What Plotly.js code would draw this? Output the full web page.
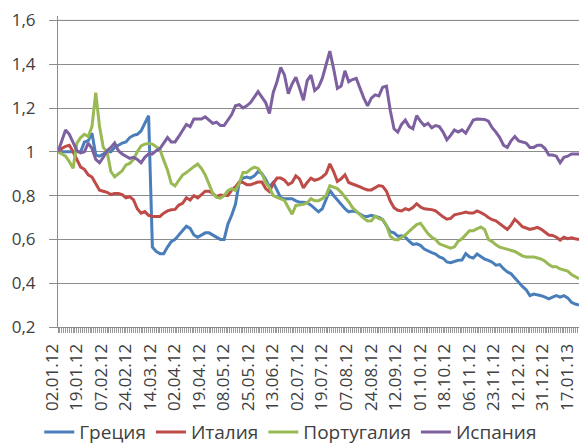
<!DOCTYPE html>
<html>
<head>
<meta charset="utf-8">
<script src="https://cdn.plot.ly/plotly-3.0.1.min.js"></script>
<style>
  html, body { margin: 0; padding: 0; background: #fff; overflow: hidden; width: 579px; height: 447px; }
  #chart { width: 579px; height: 470px; }
</style>
</head>
<body>
<div id="chart"></div>
<script>
// Tick labels (trading-day category axis, one label every 13 trading days)
const tickLabels = ["02.01.12","19.01.12","07.02.12","24.02.12","14.03.12","02.04.12","19.04.12",
  "08.05.12","25.05.12","13.06.12","02.07.12","19.07.12","07.08.12","24.08.12","12.09.12",
  "01.10.12","18.10.12","06.11.12","23.11.12","12.12.12","31.12.12","17.01.13"];
const tickDays = [0,13,26,39,52,65,78,91,104,117,130,143,156,169,182,195,208,221,234,247,260,273];
const yTicks = [0.2, 0.4, 0.6, 0.8, 1.0, 1.2, 1.4, 1.6];

// Series values, sampled every 2nd trading day (index 0, 2, 4, ...)
const greece = [1.00,1.00,1.00,1.00,1.00,1.00,1.00,1.045,1.05,1.085,
  0.985,0.98,0.99,1.00,1.00,1.02,1.03,1.04,1.045,1.065,
  1.075,1.08,1.095,1.13,1.165,0.565,0.545,0.535,0.535,0.565,
  0.59,0.60,0.62,0.64,0.66,0.65,0.62,0.61,0.62,0.63,
  0.63,0.62,0.61,0.60,0.60,0.67,0.71,0.76,0.86,0.88,
  0.885,0.88,0.89,0.91,0.90,0.875,0.84,0.86,0.825,0.79,
  0.786,0.786,0.786,0.776,0.77,0.77,0.767,0.756,0.74,0.726,
  0.74,0.78,0.825,0.80,0.78,0.76,0.74,0.726,0.73,0.726,
  0.714,0.706,0.705,0.71,0.705,0.70,0.69,0.66,0.635,0.63,
  0.615,0.617,0.61,0.592,0.577,0.58,0.573,0.556,0.547,0.54,
  0.533,0.52,0.514,0.497,0.494,0.50,0.505,0.506,0.535,0.52,
  0.515,0.533,0.522,0.51,0.504,0.496,0.482,0.485,0.466,0.452,
  0.443,0.423,0.40,0.385,0.37,0.343,0.35,0.348,0.343,0.336,
  0.328,0.336,0.343,0.336,0.343,0.333,0.313,0.305,0.30];

const italy = [1.00,1.015,1.025,1.03,1.00,0.965,0.93,0.92,0.895,0.885,
  0.855,0.825,0.82,0.815,0.805,0.81,0.81,0.805,0.79,0.795,
  0.78,0.74,0.72,0.727,0.71,0.705,0.705,0.705,0.72,0.73,
  0.735,0.737,0.757,0.765,0.79,0.78,0.80,0.79,0.805,0.82,
  0.82,0.81,0.795,0.803,0.80,0.80,0.825,0.84,0.862,0.86,
  0.85,0.85,0.856,0.862,0.862,0.832,0.818,0.855,0.88,0.88,
  0.87,0.85,0.86,0.89,0.875,0.835,0.86,0.88,0.87,0.875,
  0.885,0.90,0.945,0.91,0.865,0.877,0.895,0.86,0.853,0.848,
  0.84,0.832,0.826,0.826,0.838,0.846,0.842,0.82,0.775,0.745,
  0.733,0.73,0.74,0.735,0.745,0.763,0.748,0.74,0.738,0.736,
  0.73,0.715,0.703,0.692,0.696,0.712,0.715,0.72,0.725,0.72,
  0.72,0.73,0.722,0.713,0.70,0.69,0.685,0.672,0.658,0.645,
  0.665,0.692,0.676,0.658,0.652,0.646,0.65,0.655,0.646,0.632,
  0.62,0.618,0.61,0.597,0.61,0.603,0.607,0.603,0.60];

const portugal = [1.00,0.99,0.98,0.955,0.925,1.04,1.065,1.08,1.07,1.115,
  1.27,1.115,1.02,1.00,0.91,0.886,0.90,0.913,0.94,0.947,
  0.965,1.00,1.027,1.035,1.038,1.035,1.023,1.01,0.962,0.917,
  0.856,0.844,0.87,0.894,0.905,0.92,0.932,0.944,0.924,0.894,
  0.848,0.81,0.792,0.788,0.80,0.823,0.832,0.823,0.856,0.905,
  0.905,0.92,0.93,0.924,0.90,0.86,0.837,0.80,0.792,0.785,
  0.778,0.746,0.715,0.755,0.756,0.76,0.767,0.786,0.776,0.776,
  0.786,0.80,0.845,0.84,0.832,0.815,0.795,0.772,0.745,0.728,
  0.71,0.696,0.684,0.685,0.706,0.695,0.69,0.665,0.615,0.60,
  0.598,0.61,0.62,0.637,0.652,0.668,0.674,0.65,0.626,0.61,
  0.60,0.58,0.573,0.565,0.56,0.566,0.592,0.603,0.62,0.64,
  0.64,0.65,0.657,0.645,0.60,0.59,0.575,0.565,0.56,0.555,
  0.55,0.545,0.535,0.525,0.52,0.52,0.52,0.515,0.51,0.50,
  0.485,0.475,0.475,0.465,0.46,0.455,0.44,0.43,0.42];

const spain = [1.00,1.05,1.10,1.08,1.045,1.005,0.995,1.00,1.04,1.015,
  0.965,0.95,0.975,1.005,1.02,1.04,1.005,0.99,0.98,0.97,
  0.975,0.965,0.95,0.975,0.99,0.99,1.005,1.015,1.04,1.065,
  1.045,1.045,1.07,1.10,1.125,1.115,1.15,1.15,1.15,1.16,
  1.145,1.13,1.135,1.12,1.12,1.145,1.17,1.21,1.215,1.20,
  1.21,1.225,1.25,1.275,1.25,1.225,1.175,1.27,1.32,1.385,
  1.35,1.265,1.31,1.34,1.29,1.235,1.325,1.35,1.28,1.295,
  1.335,1.40,1.46,1.38,1.29,1.30,1.37,1.32,1.33,1.335,
  1.29,1.245,1.21,1.245,1.26,1.255,1.295,1.30,1.19,1.105,
  1.09,1.125,1.145,1.115,1.105,1.165,1.14,1.12,1.13,1.11,
  1.12,1.115,1.09,1.055,1.075,1.10,1.09,1.10,1.085,1.115,
  1.145,1.15,1.15,1.148,1.14,1.11,1.09,1.065,1.03,1.02,
  1.05,1.07,1.05,1.045,1.04,1.02,1.02,1.03,1.03,1.015,
  0.985,0.985,0.98,0.95,0.975,0.98,0.99,0.99,0.99];

const seriesNames = ["Греция","Италия","Португалия","Испания"];
const seriesColors = ["#4A7EBB","#BE4B48","#98B954","#7D60A0"];
const seriesValues = [greece, italy, portugal, spain];
const sampleStep = 2; // every 2nd trading day
const dayIndex = greece.map((_, i) => i * sampleStep);

const traces = seriesValues.map((vals, s) => ({
  type: 'scatter',
  mode: 'lines',
  name: seriesNames[s],
  x: dayIndex,
  y: vals,
  line: { color: seriesColors[s], width: 3 },
  hoverinfo: 'skip'
}));

const txt = '#404040';
const axisGray = '#8c8c8c';
const yTop = yTicks[yTicks.length - 1];
const layout = {
  width: 579,
  height: 470,
  margin: { l: 58, r: 0, t: 16, b: 143 },
  paper_bgcolor: '#fff',
  plot_bgcolor: '#fff',
  separators: ', ',
  showlegend: true,
  font: { family: 'Open Sans, sans-serif', color: txt },
  xaxis: {
    range: [0, 276],
    tickmode: 'array',
    tickvals: tickDays,
    ticktext: tickLabels,
    tickangle: -90,
    ticks: 'outside',
    ticklen: 5,
    tickcolor: axisGray,
    showline: true,
    linecolor: axisGray,
    linewidth: 1,
    showgrid: false,
    zeroline: false,
    automargin: false,
    tickfont: { family: 'Open Sans, sans-serif', size: 17, color: txt },
    ticklabelshift: -6,
    ticklabelstandoff: 4,
    ticklabeloverflow: 'allow',
    minor: { tickmode: 'linear', tick0: 0, dtick: 1, ticks: 'outside', ticklen: 5, tickcolor: '#9a9a9a', showgrid: false },
    fixedrange: true
  },
  yaxis: {
    range: [0.2, 1.6201],
    tickmode: 'array',
    tickvals: yTicks,
    showgrid: true,
    gridcolor: axisGray,
    gridwidth: 1,
    showline: true,
    linecolor: axisGray,
    linewidth: 1,
    ticks: 'outside',
    ticklen: 8,
    tickcolor: axisGray,
    zeroline: false,
    automargin: false,
    tickfont: { family: 'Open Sans, sans-serif', size: 17, color: txt },
    ticklabelstandoff: 10,
    fixedrange: true
  },
  shapes: [{
    type: 'line', layer: 'below',
    xref: 'paper', x0: 0, x1: 1,
    yref: 'y', y0: yTop, y1: yTop,
    line: { color: axisGray, width: 1 }
  }],
  legend: {
    orientation: 'h',
    x: -0.036,
    xanchor: 'left',
    y: -0.338,
    yanchor: 'middle',
    font: { family: 'Open Sans, sans-serif', size: 19, color: txt },
    bgcolor: 'rgba(0,0,0,0)',
    itemwidth: 30,
    tracegroupgap: 0
  }
};

Plotly.newPlot('chart', traces, layout, { displayModeBar: false, staticPlot: true });
</script>
</body>
</html>
